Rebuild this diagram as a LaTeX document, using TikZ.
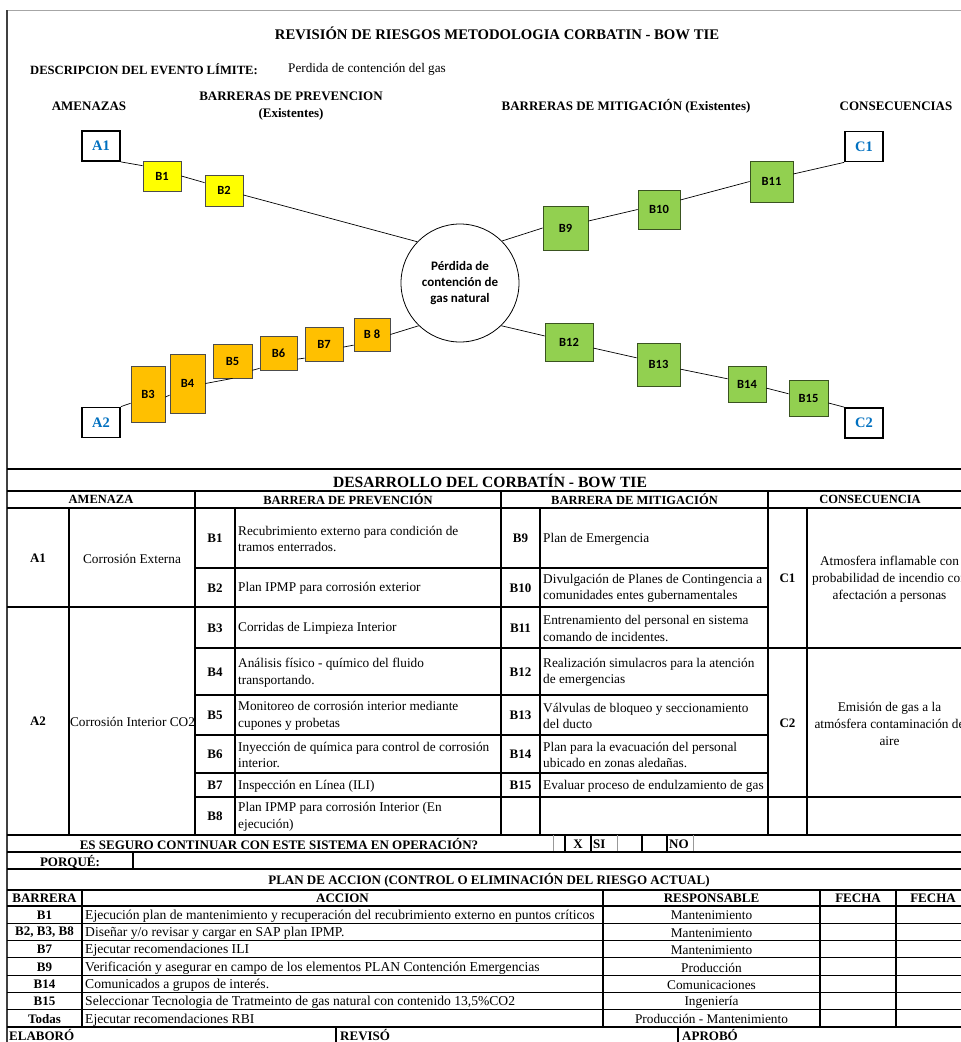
\documentclass[tikz,border=0pt]{standalone}
\usepackage{fontspec}
\setmainfont{Liberation Serif}
\newfontfamily\calibri{Carlito}
\usetikzlibrary{positioning}
\usepackage{xcolor}

\definecolor{prevyellow}{HTML}{FFFF00}
\definecolor{prevorange}{HTML}{FFC000}
\definecolor{mitgreen}{HTML}{92D050}
\definecolor{labelblue}{HTML}{0070C0}

\tikzset{
  tline/.style={line width=1.1pt},
  tthick/.style={line width=2pt},
  threat/.style={draw,line width=1.8pt,minimum width=38pt,minimum height=30pt,inner sep=0pt,text=labelblue,font=\bfseries\fontsize{14.5}{14.5}\selectfont},
  barrier/.style={draw=black!70,line width=0.8pt,inner sep=0pt,font=\fontsize{12.5}{12.5}\selectfont\calibri\bfseries},
  prevbox/.style={barrier,fill=prevyellow},
  prevbox2/.style={barrier,fill=prevorange},
  mitbox/.style={barrier,fill=mitgreen,draw=black!60!mitgreen},
  event/.style={draw,circle,line width=0.8pt,minimum size=118pt,inner sep=0pt,align=center,font=\fontsize{13}{16}\selectfont\calibri\bfseries},
  link/.style={line width=0.7pt},
  hdr/.style={font=\bfseries\fontsize{13}{17}\selectfont,align=center,inner sep=0pt},
  thdr/.style={font=\bfseries\fontsize{12.5}{12.5}\selectfont,inner sep=0pt},
  numcell/.style={font=\bfseries\fontsize{13}{13}\selectfont,inner sep=0pt,yshift=-0.5pt},
  txtcell/.style={anchor=west,align=left,inner sep=0pt,yshift=-1pt,font=\fontsize{13.3}{16.5}\selectfont},
  ctrcell/.style={align=center,inner sep=0pt,yshift=-1pt,font=\fontsize{13.3}{17}\selectfont},
}

\begin{document}
\begin{tikzpicture}[x=1pt,y=-1pt]
\useasboundingbox (0,0) rectangle (961,1042);
\clip (0,0) rectangle (961,1042);
\fill[white] (0,0) rectangle (961,1042);

% frame
\draw[black!35,line width=0.8pt] (7,10) -- (961,10);
\draw[black!75,line width=1.2pt] (7,10) -- (7,1042);

% headings
\node[font=\bfseries\fontsize{14.7}{14.7}\selectfont] (title) at (497,33) {REVISIÓN DE RIESGOS METODOLOGIA CORBATIN - BOW TIE};
\node[anchor=west,inner sep=0pt,font=\bfseries\fontsize{12.6}{12.6}\selectfont] (desc) at (30,69) {DESCRIPCION DEL EVENTO LÍMITE:};
\node[anchor=west,inner sep=0pt,font=\fontsize{13.2}{13.2}\selectfont] (descval) at (288,69) {Perdida de contención del gas};
\node[hdr] (lblthreat) at (89,106) {AMENAZAS};
\node[hdr] (lblprev) at (291,106.5) {BARRERAS DE PREVENCION\\(Existentes)};
\node[hdr] (lblmit) at (626,106) {BARRERAS DE MITIGACIÓN (Existentes)};
\node[hdr] (lblcons) at (896,106) {CONSECUENCIAS};

% bow tie
\node[threat] (A1) at (101,146) {A1};
\node[threat] (A2) at (101,422.5) {A2};
\node[threat] (C1) at (864,146.5) {C1};
\node[threat] (C2) at (864,423) {C2};
\node[event] (loss) at (460,283) {Pérdida de\\contención de\\gas natural};

\node[prevbox,minimum width=38pt,minimum height=30pt] (B1) at (162,176) {B1};
\node[prevbox,minimum width=38pt,minimum height=31pt] (B2) at (224,190.5) {B2};
\node[prevbox2,minimum width=34pt,minimum height=56pt] (B3) at (148,394) {B3};
\node[prevbox2,minimum width=35pt,minimum height=59pt] (B4) at (187.5,383.5) {B4};
\node[prevbox2,minimum width=39pt,minimum height=34pt] (B5) at (232.5,361) {B5};
\node[prevbox2,minimum width=37pt,minimum height=34pt] (B6) at (278.5,353) {B6};
\node[prevbox2,minimum width=38pt,minimum height=34pt] (B7) at (324,344) {B7};
\node[prevbox2,minimum width=36pt,minimum height=33pt] (B8) at (372,334.5) {B 8};

\node[mitbox,minimum width=45pt,minimum height=44pt] (B9) at (565.5,228) {B9};
\node[mitbox,minimum width=42pt,minimum height=39pt] (B10) at (659,209.5) {B10};
\node[mitbox,minimum width=43pt,minimum height=41pt] (B11) at (771.5,181.5) {B11};
\node[mitbox,minimum width=48pt,minimum height=38pt] (B12) at (569,342) {B12};
\node[mitbox,minimum width=43pt,minimum height=43pt] (B13) at (658.5,364.5) {B13};
\node[mitbox,minimum width=38pt,minimum height=36pt] (B14) at (747,384) {B14};
\node[mitbox,minimum width=39pt,minimum height=36pt] (B15) at (808.5,398) {B15};

\draw[link] (A1.south east) -- (B1.152);
\draw[link] (B1.east) -- (B2.158);
\draw[link] (B2.-13) -- (loss.136);
\draw[link] (A2.north east) -- (B3.208);
\draw[link] (B3.-10) -- (B4.213);
\draw[link] (B4.east) -- (B5.south);
\draw[link] (B5.-25) -- (B6.219);
\draw[link] (B6.-18) -- (B7.216);
\draw[link] (B7.-9) -- (B8.210);
\draw[link] (B8.east) -- (loss.226);
\draw[link] (loss.45) -- (B9.west);
\draw[link] (B9.17) -- (B10.west);
\draw[link] (B10.24) -- (B11.west);
\draw[link] (B11.19) -- (C1.south west);
\draw[link] (loss.-46) -- (B12.166);
\draw[link] (B12.-14) -- (B13.163);
\draw[link] (B13.-12) -- (B14.165);
\draw[link] (B14.-12) -- (B15.168);
\draw[link] (B15.-14) -- (C2.north west);

% desarrollo del corbatin
\draw[tthick] (7,469) -- (972,469);
\node[font=\bfseries\fontsize{15.6}{15.6}\selectfont] (devtitle) at (490,481) {DESARROLLO DEL CORBATÍN - BOW TIE};
\draw[tthick] (7,491) -- (972,491);
\node[thdr] (hthreat) at (101,499.5) {AMENAZA};
\node[thdr] (hprev) at (348,499.5) {BARRERA DE PREVENCIÓN};
\node[thdr] (hmit) at (634.5,499.5) {BARRERA DE MITIGACIÓN};
\node[thdr] (hcons) at (870,499.5) {CONSECUENCIA};
\draw[tline] (7,508) -- (972,508);
\foreach \x in {195,501,768} \draw[tthick] (\x,491) -- (\x,835);
\foreach \x in {69,235,540,807} \draw[tline] (\x,508) -- (\x,835);
\draw[tline] (7,607) -- (195,607);
\foreach \y in {568,607,648,695,735,773,797} \draw[tline] (195,\y) -- (768,\y);
\draw[tline] (768,648) -- (972,648);
\draw[tline] (768,797) -- (972,797);

\node[numcell] (na1) at (38,557.5) {A1};
\node[ctrcell] (ta1) at (132,557.5) {Corrosión Externa};
\node[numcell] (na2) at (38,721) {A2};
\node[ctrcell] (ta2) at (132.5,721) {Corrosión Interior CO2};

\foreach \yc/\num/\txt [count=\i] in {
  538/B1/{Recubrimiento externo para condición de\\tramos enterrados.},
  587.5/B2/{Plan IPMP para corrosión exterior},
  627.5/B3/{Corridas de Limpieza Interior},
  671.5/B4/{Análisis físico - químico del fluido\\transportando.},
  715/B5/{Monitoreo de corrosión interior mediante\\cupones y probetas},
  754/B6/{Inyección de química para control de corrosión\\interior.},
  785/B7/{Inspección en Línea (ILI)},
  816/B8/{Plan IPMP para corrosión Interior (En\\ejecución)}}
{
  \node[numcell] (pn\i) at (215,\yc) {\num};
  \node[txtcell] (pt\i) at (238,\yc) {\txt};
}

\foreach \yc/\num/\txt [count=\i] in {
  538/B9/{Plan de Emergencia},
  587.5/B10/{Divulgación de Planes de Contingencia a\\comunidades entes gubernamentales},
  627.5/B11/{Entrenamiento del personal en sistema\\comando de incidentes.},
  671.5/B12/{Realización simulacros para la atención\\de emergencias},
  715/B13/{Válvulas de bloqueo y seccionamiento\\del ducto},
  754/B14/{Plan para la evacuación del personal\\ubicado en zonas aledañas.},
  785/B15/{Evaluar proceso de endulzamiento de gas}}
{
  \node[numcell] (mn\i) at (520.5,\yc) {\num};
  \node[txtcell] (mt\i) at (543,\yc) {\txt};
}

\node[numcell] (nc1) at (787.5,578) {C1};
\node[ctrcell] (tc1) at (889.5,578) {Atmosfera inflamable con\\probabilidad de incendio con\\afectación a personas};
\node[numcell] (nc2) at (787.5,722.5) {C2};
\node[ctrcell] (tc2) at (889.5,722.5) {Emisión de gas a la\\atmósfera contaminación de\\aire};

% continuar en operacion
\draw[tthick] (7,835) -- (972,835);
\node[numcell] (safeq) at (279,843.5) {ES SEGURO CONTINUAR CON ESTE SISTEMA EN OPERACIÓN?};
\draw[black!40,line width=0.8pt] (553,835) -- (553,852);
\foreach \x in {565,591,642,667} \draw[tline] (\x,835) -- (\x,852);
\foreach \x in {617,693} \draw[black!40,line width=0.8pt] (\x,835) -- (\x,852);
\node[numcell] (mark) at (578,843.5) {X};
\node[numcell,anchor=west] (yes) at (593,843.5) {SI};
\node[numcell,anchor=west] (no) at (669,843.5) {NO};
\draw[tline] (7,852) -- (972,852);
\node[numcell] (why) at (70,861) {PORQUÉ:};
\draw[tline] (133,852) -- (133,869);

% plan de accion
\draw[tthick] (7,869) -- (972,869);
\node[numcell] (plantitle) at (489,880) {PLAN DE ACCION (CONTROL O ELIMINACIÓN DEL RIESGO ACTUAL)};
\draw[tline] (7,890) -- (972,890);
\node[numcell] (hbar) at (44.5,898) {BARRERA};
\node[numcell] (hact) at (342.5,898) {ACCION};
\node[numcell] (hresp) at (711.5,898) {RESPONSABLE};
\node[numcell] (hdate1) at (858,898) {FECHA};
\node[numcell] (hdate2) at (933,898) {FECHA};
\draw[tline] (7,906) -- (972,906);
\foreach \x in {82,603,820,896} \draw[tline] (\x,890) -- (\x,1027);

\foreach \yc/\bar/\act/\resp [count=\i] in {
  914.6/B1/{Ejecución plan de mantenimiento y recuperación del recubrimiento externo en puntos críticos}/Mantenimiento,
  931.9/{B2, B3, B8}/{Diseñar y/o revisar y cargar en SAP plan IPMP.}/Mantenimiento,
  949.2/B7/{Ejecutar recomendaciones ILI}/Mantenimiento,
  966.5/B9/{Verificación y asegurar en campo de los elementos PLAN Contención Emergencias}/Producción,
  983.8/B14/{Comunicados a grupos de interés.}/Comunicaciones,
  1001.1/B15/{Seleccionar Tecnologia de Tratmeinto de gas natural con contenido 13,5\%CO2}/Ingeniería,
  1018.4/Todas/{Ejecutar recomendaciones RBI}/{Producción - Mantenimiento}}
{
  \node[numcell] (ab\i) at (44.5,\yc) {\bar};
  \node[txtcell,yshift=-0.5pt,font=\fontsize{13.6}{13.6}\selectfont] (aa\i) at (85,\yc) {\act};
  \node[ctrcell] (ar\i) at (711.5,\yc) {\resp};
  \draw[tline] (7,\yc+8.65) -- (972,\yc+8.65);
}

% firmas
\draw[tthick] (7,1027) -- (972,1027);
\foreach \x in {336,678} \draw[tthick] (\x,1027) -- (\x,1042);
\node[numcell,anchor=west] (made) at (9,1034.5) {ELABORÓ};
\node[numcell,anchor=west] (checked) at (340,1034.5) {REVISÓ};
\node[numcell,anchor=west] (approved) at (682,1034.5) {APROBÓ};
\end{tikzpicture}
\end{document}
